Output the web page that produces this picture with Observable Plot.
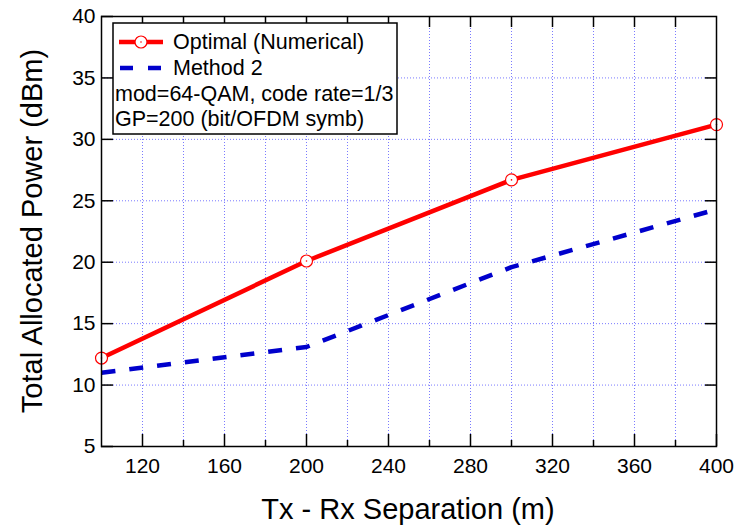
<!DOCTYPE html>
<html>
<head>
<meta charset="utf-8">
<script src="https://cdn.jsdelivr.net/npm/d3@7"></script>
<script src="https://cdn.jsdelivr.net/npm/@observablehq/plot@0.6"></script>
<style>
  html, body { margin: 0; padding: 0; background: #fff; }
  #chart svg { display: block; }
</style>
</head>
<body>
<div id="chart"></div>
<script>
// Tx-Rx separation (m) and total allocated power (dBm) for each scheme
const separation = [100, 200, 300, 400];
const optimalPower = [12.2, 20.1, 26.7, 31.2];
const method2Power = [11.0, 13.1, 19.6, 24.3];

const seriesNames = ["Optimal (Numerical)", "Method 2"];
const noteLines = ["mod=64-QAM, code rate=1/3", "GP=200 (bit/OFDM symb)"];
const xTitle = "Tx - Rx Separation (m)";
const yTitle = "Total Allocated Power (dBm)";

// Tick positions
const xLabelTicks = [120, 160, 200, 240, 280, 320, 360, 400];
const xMinorTicks = [140, 180, 220, 260, 300, 340, 380];
const xGridTicks = [120, 140, 160, 180, 200, 220, 240, 260, 280, 300, 320, 340, 360, 380];
const yLabelTicks = [5, 10, 15, 20, 25, 30, 35, 40];
const yGridTicks = [10, 15, 20, 25, 30, 35];

const optimal = separation.map((x, i) => ({x, y: optimalPower[i]}));
const method2 = separation.map((x, i) => ({x, y: method2Power[i]}));

const FONT = "'Liberation Sans', Arial, Helvetica, sans-serif";
const RED = "#ff0000";
const BLUE = "#0000cc";
const GRID = "#7a7aff";
const noLabel = () => "";

const chart = Plot.plot({
  width: 737,
  height: 529,
  marginLeft: 101,
  marginRight: 21,
  marginTop: 16,
  marginBottom: 83,
  style: {fontFamily: FONT, fontSize: "21px", background: "white", color: "black", overflow: "visible"},
  x: {domain: [100, 400]},
  y: {domain: [5, 40]},
  marks: [
    Plot.gridX(xGridTicks, {stroke: GRID, strokeOpacity: 1, strokeWidth: 1, strokeDasharray: "1,2"}),
    Plot.gridY(yGridTicks, {stroke: GRID, strokeOpacity: 1, strokeWidth: 1, strokeDasharray: "1,2"}),
    Plot.line(method2, {x: "x", y: "y", stroke: BLUE, strokeWidth: 4.5, strokeDasharray: "14,14", strokeLinecap: "butt"}),
    Plot.line(optimal, {x: "x", y: "y", stroke: RED, strokeWidth: 4.5}),
    Plot.dot(optimal, {x: "x", y: "y", r: 6, fill: "white", stroke: RED, strokeWidth: 1.2}),
    Plot.dot(optimal, {x: "x", y: "y", r: 0.8, fill: RED}),
    // inward ticks on all four sides
    Plot.axisX(xLabelTicks, {anchor: "bottom", tickSize: -12, tickPadding: 24, strokeWidth: 1.5, fontSize: 21, label: null}),
    Plot.axisX(xMinorTicks, {anchor: "bottom", tickSize: -6, strokeWidth: 1.5, tickFormat: noLabel, label: null}),
    Plot.axisX(xGridTicks, {anchor: "top", tickSize: -10, strokeWidth: 1.5, tickFormat: noLabel, label: null}),
    Plot.axisY(yLabelTicks, {anchor: "left", tickSize: -12, tickPadding: 18, strokeWidth: 1.5, fontSize: 21, label: null}),
    Plot.axisY(yGridTicks, {anchor: "right", tickSize: -12, strokeWidth: 1.5, tickFormat: noLabel, label: null}),
    Plot.frame({stroke: "black", strokeWidth: 1.5})
  ]
});

document.getElementById("chart").appendChild(chart);

const svg = d3.select(chart);

// axis titles
svg.append("text")
  .attr("x", 408).attr("y", 519)
  .attr("text-anchor", "middle")
  .attr("font-family", FONT).attr("font-size", 29).attr("fill", "black")
  .text(xTitle);

svg.append("text")
  .attr("transform", "translate(42,231) rotate(-90)")
  .attr("text-anchor", "middle")
  .attr("font-family", FONT).attr("font-size", 29).attr("fill", "black")
  .text(yTitle);

// legend box with series keys and parameter notes
const legend = svg.append("g")
  .attr("font-family", FONT).attr("font-size", 21.5)
  .attr("fill", "black").attr("text-anchor", "start");
legend.append("rect")
  .attr("x", 113).attr("y", 23).attr("width", 284).attr("height", 111)
  .attr("fill", "white").attr("stroke", "black").attr("stroke-width", 1.5);

legend.append("line")
  .attr("x1", 119).attr("x2", 163).attr("y1", 42).attr("y2", 42)
  .attr("stroke", RED).attr("stroke-width", 4.5);
legend.append("circle")
  .attr("cx", 141).attr("cy", 42).attr("r", 6)
  .attr("fill", "white").attr("stroke", RED).attr("stroke-width", 1.2);
legend.append("circle")
  .attr("cx", 141).attr("cy", 42).attr("r", 0.8).attr("fill", RED);
legend.append("text").attr("x", 173).attr("y", 49).text(seriesNames[0]);

legend.append("line")
  .attr("x1", 120).attr("x2", 162).attr("y1", 68).attr("y2", 68)
  .attr("stroke", BLUE).attr("stroke-width", 4.5).attr("stroke-dasharray", "13,15");
legend.append("text").attr("x", 173).attr("y", 75).text(seriesNames[1]);

legend.append("text").attr("x", 115).attr("y", 101).text(noteLines[0]);
legend.append("text").attr("x", 115).attr("y", 126).text(noteLines[1]);
</script>
</body>
</html>
